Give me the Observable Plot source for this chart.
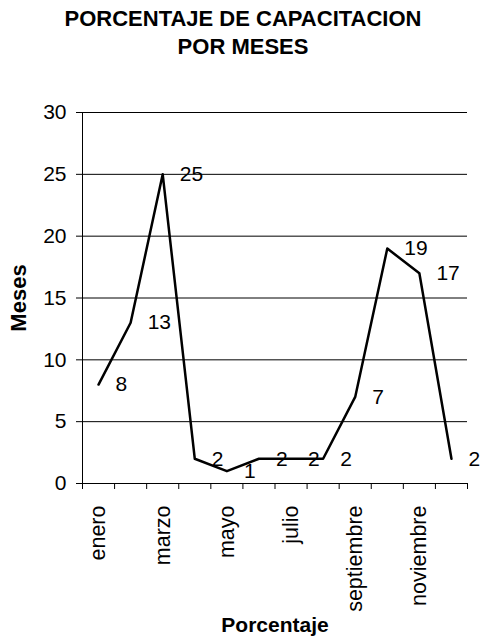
<!DOCTYPE html>
<html>
<head>
<meta charset="utf-8">
<script src="https://cdn.jsdelivr.net/npm/d3@7"></script>
<script src="https://cdn.jsdelivr.net/npm/@observablehq/plot@0.6"></script>
<style>
  html, body { margin: 0; padding: 0; background: white; }
  #title {
    width: 480px; height: 62px; box-sizing: border-box;
    padding-top: 5px; padding-left: 6px;
    font-family: "Liberation Sans", Arial, sans-serif;
    font-weight: bold; font-size: 22px; line-height: 28px;
    text-align: center; color: black;
  }
</style>
</head>
<body>
<div id="title">PORCENTAJE DE CAPACITACION<br>POR MESES</div>
<div id="chart"></div>
<script>
const months = ["enero","febrero","marzo","abril","mayo","junio","julio","agosto","septiembre","octubre","noviembre","diciembre"];
const values = [8, 13, 25, 2, 1, 2, 2, 2, 7, 19, 17, 2];
const yTicks = [0, 5, 10, 15, 20, 25, 30];
const shownMonths = ["enero","marzo","mayo","julio","septiembre","noviembre"];
const xLabel = "Porcentaje";
const yLabel = "Meses";

const data = months.map((m, i) => ({month: m, pos: i + 0.5, value: values[i]}));
const boundaries = d3.range(0, months.length + 1);
const labelPos = shownMonths.map(m => months.indexOf(m) + 0.5);

const font = "'Liberation Sans', Arial, sans-serif";

const chart = Plot.plot({
  width: 480,
  height: 576,
  marginTop: 50,
  marginBottom: 155,
  marginLeft: 82,
  marginRight: 13,
  style: {fontFamily: font, fontSize: "21px", color: "black", background: "white"},
  x: {type: "linear", domain: [0, months.length]},
  y: {domain: [0, 30]},
  marks: [
    Plot.ruleY(yTicks, {stroke: "black", strokeWidth: 1}),
    Plot.ruleX([0], {stroke: "black", strokeWidth: 1}),
    Plot.axisY({ticks: yTicks, tickSize: 6, tickPadding: 10, fontSize: 21, label: null}),
    Plot.axisX({ticks: boundaries, tickSize: 6, tickFormat: () => "", label: null}),
    Plot.axisX({ticks: labelPos, tickSize: 0, tickPadding: 22, tickRotate: -90, fontSize: 21.5,
                tickFormat: v => months[Math.floor(v)], label: null}),
    Plot.line(data, {x: "pos", y: "value", stroke: "black", strokeWidth: 2.5}),
    Plot.text(data, {x: "pos", y: "value", text: d => String(d.value), dx: 17,
                     textAnchor: "start", fontSize: 21, fill: "black"}),
    Plot.text([yLabel], {frameAnchor: "left", dx: -64, rotate: -90, textAnchor: "middle",
                         fontWeight: "bold", fontSize: 22, fill: "black"}),
    Plot.text([xLabel], {frameAnchor: "bottom", dy: 148, textAnchor: "middle",
                         fontWeight: "bold", fontSize: 21, fill: "black"})
  ]
});
document.getElementById("chart").appendChild(chart);
</script>
</body>
</html>
